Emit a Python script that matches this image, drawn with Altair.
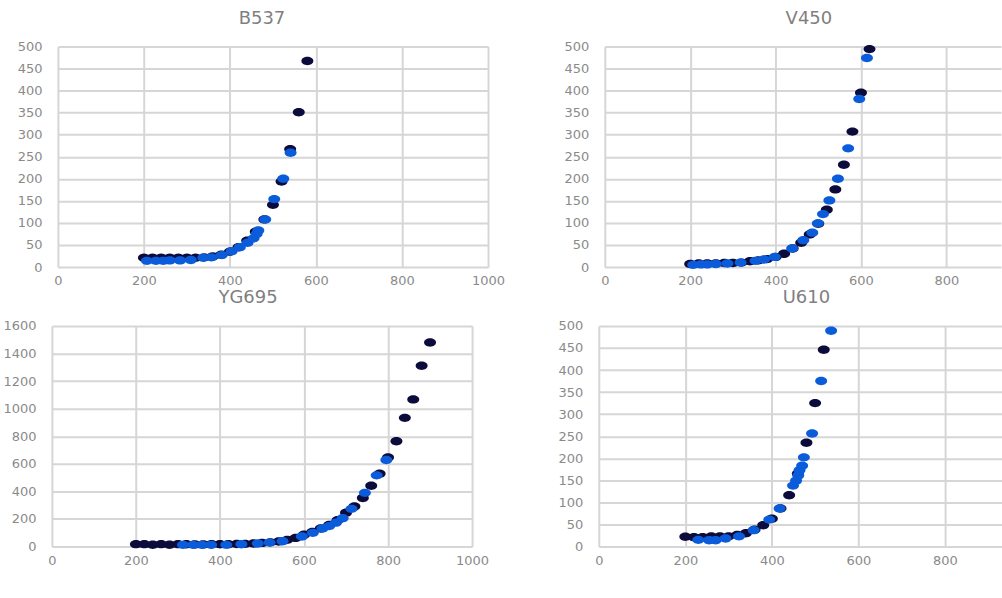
import altair as alt
import pandas as pd

# ---------------- data ----------------
# B537
b537_dark_x = [200, 220, 240, 260, 280, 300, 320, 340, 360, 380, 400, 420, 440, 460, 480, 500, 520, 540, 560, 580]
b537_dark_y = [21, 21, 21, 21, 21, 21, 21, 22, 24, 28, 35, 45, 60, 80, 108, 141, 194, 267, 351, 467]
b537_blue_x = [207, 228, 245, 260, 284, 309, 338, 357, 381, 404, 423, 441, 455, 462, 466, 482, 503, 524, 541]
b537_blue_y = [14, 14, 14, 15, 15, 16, 21, 22, 27, 36, 45, 55, 65, 75, 83, 108, 154, 200, 259]

# V450
v450_dark_x = [200, 220, 240, 260, 280, 300, 320, 340, 360, 380, 400, 420, 440, 460, 480, 500, 520, 540, 560, 580, 600, 620]
v450_dark_y = [7, 8, 8, 8, 9, 9, 10, 13, 15, 18, 23, 30, 42, 55, 74, 98, 130, 176, 232, 307, 395, 494]
v450_blue_x = [207, 225, 240, 260, 287, 318, 353, 373, 398, 439, 465, 486, 499, 511, 526, 546, 570, 596, 614]
v450_blue_y = [5, 6, 6, 7, 8, 10, 14, 17, 23, 42, 61, 78, 99, 120, 151, 200, 269, 381, 474]

# YG695
yg695_dark_x = [200, 220, 240, 260, 280, 300, 320, 340, 360, 380, 400, 420, 440, 460, 480, 500, 520, 540,
                560, 580, 600, 620, 640, 660, 680, 700, 720, 740, 760, 780, 800, 820, 840, 860, 880, 900]
yg695_dark_y = [17, 17, 13, 17, 13, 17, 16, 15, 15, 16, 16, 17, 18, 19, 22, 26, 30, 36,
                48, 62, 85, 105, 130, 157, 190, 245, 290, 352, 441, 528, 646, 763, 933, 1067, 1311, 1480]
yg695_blue_x = [312, 336, 357, 379, 415, 451, 490, 518, 549, 595, 621, 644, 660, 676, 692, 713, 745, 773, 796]
yg695_blue_y = [12, 12, 12, 12, 12, 16, 22, 28, 38, 72, 99, 130, 148, 173, 205, 273, 389, 516, 627]

# U610
u610_dark_x = [200, 220, 240, 260, 280, 300, 320, 340, 360, 380, 400, 420, 440, 460, 480, 500, 520]
u610_dark_y = [22, 21, 21, 23, 23, 23, 26, 30, 38, 48, 63, 86, 116, 165, 235, 325, 446]
u610_blue_x = [230, 255, 270, 293, 324, 358, 394, 418, 449, 456, 461, 464, 470, 474, 493, 514, 537]
u610_blue_y = [15, 14, 14, 18, 23, 37, 61, 86, 138, 149, 161, 173, 183, 202, 256, 375, 489]

# ---------------- styling ----------------
DARK = "#0c0c3c"
BLUE = "#0b5cdb"
ELLIPSE = "M-1,0A1,0.7,0,1,1,1,0A1,0.7,0,1,1,-1,0Z"
FONT = "DejaVu Sans"
PLOT_H = 221


def panel(title, dx, dark_x, dark_y, blue_x, blue_y, xmax, ymax, ystep, width, yext):
    rows = [{"x": a, "y": b, "s": "dark"} for a, b in zip(dark_x, dark_y)]
    rows += [{"x": a, "y": b, "s": "blue"} for a, b in zip(blue_x, blue_y)]
    df = pd.DataFrame(rows)
    xticks = [v for v in range(0, 1001, 200) if v <= xmax]
    yticks = list(range(0, ymax + 1, ystep))
    return alt.Chart(df).mark_point(
        filled=True, shape=ELLIPSE, size=144, opacity=1, strokeWidth=0
    ).encode(
        x=alt.X("x:Q", scale=alt.Scale(domain=[0, xmax], nice=False, zero=True),
                axis=alt.Axis(values=xticks, format="d", title=None, labelPadding=8,
                              labelFlush=False, labelOverlap=False, minExtent=22)),
        y=alt.Y("y:Q", scale=alt.Scale(domain=[0, ymax], nice=False, zero=True),
                axis=alt.Axis(values=yticks, format="d", title=None, labelPadding=16,
                              labelFlush=False, labelOverlap=False, minExtent=yext)),
        color=alt.Color("s:N", scale=alt.Scale(domain=["dark", "blue"], range=[DARK, BLUE]), legend=None),
    ).properties(
        width=width, height=PLOT_H,
        title=alt.TitleParams(title, anchor="middle", frame="group", dx=dx, offset=-1,
                              baseline="alphabetic", fontSize=18, font=FONT,
                              fontWeight="normal", color="#7f7f7f"),
    )


def spacer():
    return alt.Chart(pd.DataFrame({"a": [0]})).mark_point(
        opacity=0, size=0, strokeWidth=0, filled=True
    ).encode(
        x=alt.value(0), y=alt.value(0)
    ).properties(width=1, height=PLOT_H)


p1 = panel("B537", -11, b537_dark_x, b537_dark_y, b537_blue_x, b537_blue_y, 1000, 500, 50, 431, 57)
p2 = panel("V450", 6, v450_dark_x, v450_dark_y, v450_blue_x, v450_blue_y, 928, 500, 50, 397, 50)
p3 = panel("YG695", -14, yg695_dark_x, yg695_dark_y, yg695_blue_x, yg695_blue_y, 1000, 1600, 200, 421, 51)
p4 = panel("U610", 6, u610_dark_x, u610_dark_y, u610_blue_x, u610_blue_y, 932, 500, 50, 404, 50)

row1 = alt.hconcat(alt.hconcat(spacer(), p1, spacing=0), p2, spacing=50)
row2 = alt.hconcat(alt.hconcat(spacer(), p3, spacing=0), p4, spacing=60)

chart = alt.vconcat(row1, row2, spacing=0).properties(
    padding={"left": 0, "top": 9, "right": 0, "bottom": 0}
).configure_view(stroke=None).configure_axis(
    grid=True, gridColor="#d6d6d6", gridWidth=2, domain=False, ticks=False,
    labelFont=FONT, labelFontSize=13, labelColor="#8a8a8a",
)

chart.save("out.html", embed_options={"renderer": "svg", "actions": False})
